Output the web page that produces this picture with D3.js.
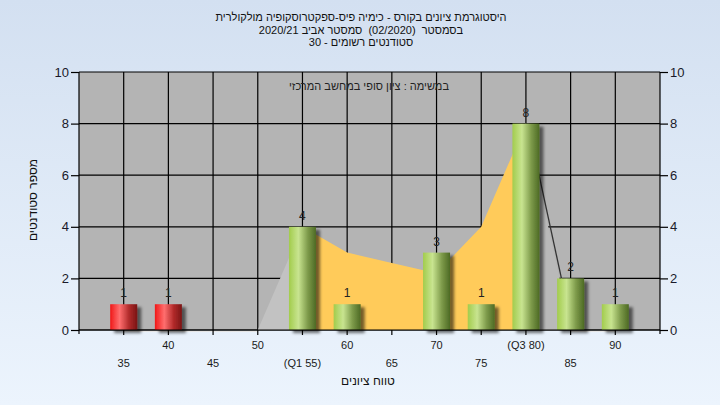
<!DOCTYPE html>
<html><head><meta charset="utf-8">
<script src="https://cdn.jsdelivr.net/npm/d3@7"></script>
<style>html,body{margin:0;padding:0;overflow:hidden;}svg{display:block;}</style>
</head><body><svg id="c" width="720" height="405"></svg>
<script>
const categories = ["35","40","45","50","55","60","65","70","75","80","85","90"];
const tickLabels = ["35","40","45","50","(Q1 55)","60","65","70","75","(Q3 80)","85","90"];
const counts     = [1,1,0,0,4,1,0,3,1,8,2,1];
const failFlags  = [1,1,0,0,0,0,0,0,0,0,0,0];
const areaValues = [0,0,0,0,4,3,2.6,2.2,4,8,0,0];
const q1Cat = "55", q3Cat = "80";
const yTicks = [0,2,4,6,8,10];
const titleLines = ["היסטוגרמת ציונים בקורס - כימיה פיס-ספקטרוסקופיה מולקולרית",
                    "בסמסטר\u00a0\u00a0(02/2020)\u00a0\u00a0סמסטר אביב 2020/21",
                    "סטודנטים רשומים - 30"];
const subTitle = "במשימה : ציון סופי במחשב המרכזי";
const xTitle = "טווח ציונים";
const yTitle = "מספר סטודנטים";

const FONT = "'Liberation Sans', Arial, sans-serif";
const svg = d3.select("#c");
const L = 79, R = 660, T = 72, B = 330;
const x = d3.scalePoint().domain(categories).range([L, R]).padding(1);
const y = d3.scaleLinear().domain([0, 10]).range([B, T]);
const bw = 27;

const defs = svg.append("defs");
const bg = defs.append("linearGradient").attr("id","bg").attr("x1",0).attr("y1",0).attr("x2",0).attr("y2",1);
bg.append("stop").attr("offset","0%").attr("stop-color","#d3e0f1");
bg.append("stop").attr("offset","100%").attr("stop-color","#ecf4fd");
function cyl(id, c0, c1, c2, c3){
  const g = defs.append("linearGradient").attr("id",id).attr("x1",0).attr("y1",0).attr("x2",1).attr("y2",0);
  g.append("stop").attr("offset","0%").attr("stop-color",c0);
  g.append("stop").attr("offset","35%").attr("stop-color",c1);
  g.append("stop").attr("offset","70%").attr("stop-color",c2);
  g.append("stop").attr("offset","100%").attr("stop-color",c3);
}
cyl("gGreen","#a2cc4c","#c8e490","#7d9a4a","#4d6a24");
cyl("gRed","#f01818","#ff6e6e","#b02a2a","#7a1414");
const f = defs.append("filter").attr("id","sh").attr("x","-30%").attr("y","-30%").attr("width","170%").attr("height","170%");
f.append("feDropShadow").attr("dx",4).attr("dy",3).attr("stdDeviation",1.6).attr("flood-color","#000").attr("flood-opacity",0.55);

svg.append("rect").attr("width",720).attr("height",405).attr("fill","url(#bg)");
svg.append("rect").attr("x",L).attr("y",T).attr("width",R-L).attr("height",B-T).attr("fill","#b4b4b4");

// grid
svg.append("g").selectAll("line.h").data(yTicks).join("line")
  .attr("x1",L).attr("x2",R).attr("y1",d=>y(d)).attr("y2",d=>y(d)).attr("stroke","#000").attr("stroke-width",1.2);
svg.append("g").selectAll("line.v").data(categories).join("line")
  .attr("x1",d=>x(d)).attr("x2",d=>x(d)).attr("y1",T).attr("y2",B).attr("stroke","#000").attr("stroke-width",1.2);

// area segments
const pts = categories.map((c,i)=>({c, v: areaValues[i]}));
const area = d3.area().x(d=>x(d.c)).y0(y(0)).y1(d=>y(d.v));
const i1 = categories.indexOf(q1Cat), i3 = categories.indexOf(q3Cat);
svg.append("path").attr("d", area(pts.slice(0, i1+1))).attr("fill","#c2c2c2");
svg.append("path").attr("d", area(pts.slice(i3))).attr("fill","#b9b9b9");
svg.append("path").attr("d", area(pts.slice(i1, i3+1))).attr("fill","#ffcb5a");
svg.append("path").attr("d", d3.line().x(d=>x(d.c)+2).y(d=>y(d.v))(pts.slice(i3, i3+2)))
  .attr("fill","none").attr("stroke","#333").attr("stroke-width",1.3);
for (let i=0;i<pts.length-1;i++){
  if (pts[i].v===0 && pts[i+1].v===0){
    svg.append("line").attr("x1",x(pts[i].c)).attr("x2",x(pts[i+1].c)).attr("y1",B+1.5).attr("y2",B+1.5)
      .attr("stroke","#e6e6e6").attr("stroke-width",1);
  }
}

// bars
const bars = categories.map((c,i)=>({c, v: counts[i], fail: failFlags[i]})).filter(d=>d.v>0);
svg.append("g").selectAll("rect").data(bars).join("rect")
  .attr("x",d=>x(d.c)-bw/2).attr("width",bw)
  .attr("y",d=>y(d.v)).attr("height",d=>y(0)-y(d.v))
  .attr("fill",d=>d.fail?"url(#gRed)":"url(#gGreen)").attr("filter","url(#sh)");
svg.append("g").selectAll("text").data(bars).join("text")
  .attr("x",d=>x(d.c)).attr("y",d=>y(d.v)-7).attr("text-anchor","middle")
  .attr("font-family",FONT).attr("font-size",12).attr("fill","#222").text(d=>d.v);

// axes lines
svg.append("line").attr("x1",L).attr("x2",R).attr("y1",B).attr("y2",B).attr("stroke","#000").attr("stroke-width",1.2);
svg.append("line").attr("x1",L).attr("x2",L).attr("y1",T).attr("y2",B+4).attr("stroke","#000").attr("stroke-width",1.2);
svg.append("line").attr("x1",R).attr("x2",R).attr("y1",T).attr("y2",B+4).attr("stroke","#000").attr("stroke-width",1.2);
const yl = d3.axisLeft(y).tickValues(yTicks).tickSize(8).tickPadding(2);
const yr = d3.axisRight(y).tickValues(yTicks).tickSize(8).tickPadding(2);
function styleAxis(g){
  g.select(".domain").remove();
  g.selectAll(".tick line").attr("stroke","#000").attr("stroke-width",1.2);
  g.selectAll(".tick text").attr("font-family",FONT).attr("font-size",13).attr("fill","#1a1a2a");
}
svg.append("g").attr("transform",`translate(${L},0)`).call(yl).call(styleAxis);
svg.append("g").attr("transform",`translate(${R},0)`).call(yr).call(styleAxis);
svg.append("g").selectAll("line").data(categories).join("line")
  .attr("x1",d=>x(d)).attr("x2",d=>x(d)).attr("y1",B).attr("y2",B+5).attr("stroke","#000").attr("stroke-width",1.2);
svg.append("g").selectAll("text").data(categories).join("text")
  .attr("x",d=>x(d)).attr("y",(d,i)=> i%2===1 ? 349 : 367)
  .attr("text-anchor","middle").attr("font-family",FONT).attr("font-size",11).attr("fill","#1a1a1a")
  .text((d,i)=>tickLabels[i]);

// titles
svg.append("g").selectAll("text").data(titleLines).join("text")
  .attr("x",361).attr("y",(d,i)=>21+i*12.5).attr("text-anchor","middle").attr("direction","rtl")
  .attr("font-family",FONT).attr("font-size",11).attr("fill","#111").text(d=>d);
svg.append("text").attr("x",369).attr("y",90).attr("text-anchor","middle").attr("direction","rtl")
  .attr("font-family",FONT).attr("font-size",11).attr("fill","#222").text(subTitle);
svg.append("text").attr("x",368).attr("y",385).attr("text-anchor","middle").attr("direction","rtl")
  .attr("font-family",FONT).attr("font-size",12).attr("fill","#111").text(xTitle);
svg.append("text").attr("transform","translate(37,200) rotate(-90)").attr("text-anchor","middle").attr("direction","rtl")
  .attr("font-family",FONT).attr("font-size",12).attr("fill","#111").text(yTitle);
</script></body></html>
